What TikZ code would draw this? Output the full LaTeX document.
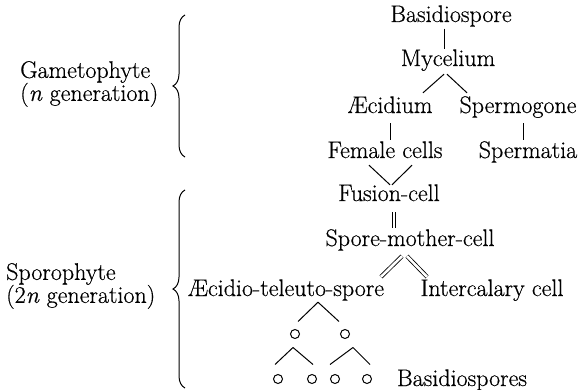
\documentclass[tikz,border=0pt]{standalone}
\usepackage{fontspec}
\setmainfont{Latin Modern Roman}[FakeBold=0.5]
\usepackage{tikz}
\usetikzlibrary{calc,decorations.pathreplacing}

\tikzset{
  stage/.style={inner sep=0pt,text height=17pt,text depth=5pt},
  phase/.style={inner sep=0pt,align=left,anchor=west},
  cell/.style={circle,draw,line width=1pt,inner sep=0pt,minimum width=9pt,minimum height=8.5pt},
  link/.style={line width=1pt},
  twin/.style={double,double distance=2.6pt,line width=0.8pt},
  gbrace/.style={decorate,decoration={brace,amplitude=12pt},line width=1pt}
}

\begin{document}
\begin{tikzpicture}[x=1pt,y=-1pt,font=\fontsize{24}{23}\selectfont]
    \useasboundingbox (0,0) rectangle (580,390);
    % gametophyte part
    \node[stage] (bas) at (451,16) {Basidiospore};
    \node[stage] (myc) at (448,60) {Mycelium};
    \node[stage] (aec) at (390,107) {\AE cidium};
    \node[stage] (spg) at (518,107) {Spermogone};
    \node[stage] (fem) at (385,152) {Female cells};
    \node[stage] (spt) at (528,152) {Spermatia};
    % sporophyte part
    \node[stage] (fus) at (389,195) {Fusion-cell};
    \node[stage] (smc) at (410,240) {Spore-mother-cell};
    \node[stage] (aet) at (286,290) {\AE cidio-teleuto-spore};
    \node[stage] (int) at (492,290) {Intercalary cell};
    \node[stage] (bsp) at (462,380) {Basidiospores};
    \foreach \n/\x/\y in {c1/295/334,c2/345/334,c3/278/379,c4/312/379,c5/335/379,c6/367/379}
      \node[cell] (\n) at (\x,\y) {};

    \draw[link] ($(bas.south)+(-7,1.5)$) -- ($(myc.north)+(-4,0)$);
    \draw[link] ($(myc.south)+(-4,3)$) -- ($(aec.north)+(33,-3)$);
    \draw[link] ($(myc.south)+(-1,3)$) -- ($(spg.north)+(-51,-3)$);
    \draw[link] ($(aec.south)+(0,5)$) -- ($(fem.north)+(5,-1)$);
    \draw[link] ($(spg.south)+(5,5)$) -- ($(spt.north)+(-5,-1)$);
    \draw[link] ($(fem.south)+(-16,2)$) -- ($(fus.north)+(1,1)$);
    \draw[link] ($(fem.south)+(27,2)$) -- ($(fus.north)+(3,1)$);
    \draw[twin] ($(fus.south)+(5,6)$) -- ($(smc.north)+(-16,-1)$);
    \draw[twin] ($(smc.south)+(-8,5)$) -- ($(aet.north)+(95,-2)$);
    \draw[twin] ($(smc.south)+(-3,5)$) -- ($(int.north)+(-65,-2)$);
    \draw[link] ($(aet.south)+(32,1)$) -- ($(c1.north)+(3,-7.5)$);
    \draw[link] ($(aet.south)+(32,1)$) -- ($(c2.north)+(-6,-7.5)$);
    \draw[link] ($(c1.south)+(-2,8.5)$) -- ($(c3.north)+(-3,-9.5)$);
    \draw[link] ($(c1.south)+(-2,8.5)$) -- ($(c4.north)+(1,-9.5)$);
    \draw[link] ($(c2.south)+(8,8.5)$) -- ($(c5.north)+(-5,-9.5)$);
    \draw[link] ($(c2.south)+(8,8.5)$) -- ($(c6.north)+(3,-9.5)$);

    % generations
    \node[phase] (game) at (20,84) {Gametophyte\\(\textit{n} generation)};
    \node[phase] (spor) at (6,286) {Sporophyte\\(2\textit{n} generation)};
    \draw[gbrace] (185,157) -- (185,15);
    \draw[gbrace] (185,388) -- (185,190);
\end{tikzpicture}
\end{document}
